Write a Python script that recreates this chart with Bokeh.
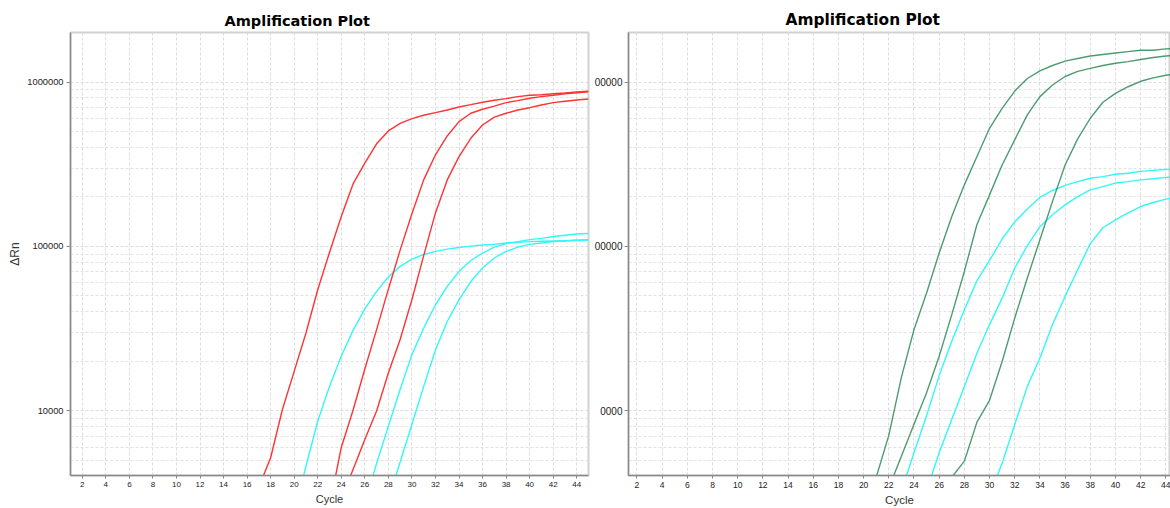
from bokeh.plotting import figure
from bokeh.models import Range1d, FixedTicker, CustomJSTickFormatter
from bokeh.layouts import row
from bokeh.embed import file_html
from bokeh.resources import INLINE

# ---------------- data ----------------
cycles = list(range(1, 46))
x_ticks = list(range(2, 46, 2))
y_ticks = [10000, 100000, 1000000]
y_minor = [k * 10 ** n for n in range(3, 7) for k in range(2, 10)]
y_tick_labels = ["10000", "100000", "1000000"]
# the right panel's tick labels are partly hidden in the reference: visible part only
right_y_tick_labels = ["0000", "00000", "00000"]
title_text = "Amplification Plot"
x_label = "Cycle"
y_label = "\u0394Rn"

# left panel: red and cyan curves (first cycle, values per cycle)
left_red_1_start = 17
left_red_1 = [3450, 5190, 10200, 17400, 29800, 54600, 92000, 152000, 240000, 321000,
              421000, 504000, 561000, 599000, 628000, 652000, 676000, 705000, 728000,
              753000, 774000, 792000, 815000, 830000, 837000, 849000, 857000, 869000, 878000]
left_red_2_start = 23
left_red_2 = [2630, 6000, 10100, 18000, 31200, 55000, 95000, 158000, 254000, 361000,
              470000, 574000, 646000, 683000, 714000, 749000, 770000, 796000, 815000,
              830000, 849000, 861000, 873000]
left_red_3_start = 24
left_red_3 = [2900, 4400, 6700, 10000, 17000, 27200, 47400, 88000, 160000, 254000,
              352000, 455000, 548000, 611000, 646000, 676000, 698000, 725000, 749000,
              764000, 778000, 789000]
left_cyan_1_start = 20
left_cyan_1 = [2400, 4610, 8650, 14100, 21500, 30900, 41700, 53300, 65200, 75700, 83800,
               89400, 93300, 96300, 98600, 100500, 102000, 103000, 105000, 106000, 107000,
               107500, 108000, 108500, 109000, 109500]
left_cyan_2_start = 26
left_cyan_2 = [2700, 4800, 8070, 13500, 22000, 31900, 44200, 57200, 70500, 82200, 91200,
               99200, 104000, 107000, 110000, 112000, 115000, 117000, 119000, 120000]
left_cyan_3_start = 28
left_cyan_3 = [2860, 4890, 8270, 14100, 23500, 35000, 47400, 61200, 74000, 85100, 93300,
               99200, 103000, 105000, 107000, 108000, 109000, 110000]

# right panel: green and cyan curves
right_green_1_start = 21
right_green_1 = [3950, 7100, 16000, 31200, 52100, 91200, 152000, 237000, 352000, 523000,
                 692000, 881000, 1050000, 1170000, 1260000, 1340000, 1390000, 1440000,
                 1470000, 1500000, 1530000, 1560000, 1560000, 1590000, 1600000]
right_green_2_start = 22
right_green_2 = [3400, 5300, 8300, 12900, 21500, 38500, 70500, 136000, 206000, 313000,
                 445000, 631000, 815000, 959000, 1080000, 1160000, 1210000, 1260000,
                 1300000, 1330000, 1370000, 1410000, 1440000, 1450000]
right_green_3_start = 27
right_green_3 = [3950, 4950, 8550, 11600, 20000, 36700, 64300, 110000, 188000, 313000,
                 451000, 602000, 753000, 853000, 936000, 1010000, 1060000, 1100000, 1120000]
right_cyan_1_start = 23
right_cyan_1 = [3270, 5570, 9360, 16400, 26500, 41200, 61900, 82200, 111000, 141000,
                169000, 199000, 219000, 235000, 248000, 260000, 266000, 275000, 279000,
                286000, 290000, 294000, 297000]
right_cyan_2_start = 25
right_cyan_2 = [3270, 5570, 8870, 14100, 22500, 33500, 48500, 74000, 101000, 132000,
                156000, 179000, 201000, 221000, 231000, 243000, 248000, 254000, 258000,
                263000, 265000]
right_cyan_3_start = 30
right_cyan_3 = [3070, 4800, 8270, 14100, 21000, 33500, 49700, 72200, 104000, 130000,
                145000, 160000, 175000, 185000, 194000, 198000]

RED = "#ff3333"
CYAN = "#33f7f7"
GREEN = "#2e8b57"

FMT_CODE = """
for (let i = 0; i < tick_values.length; i++) {
  if (Math.abs(tick_values[i] - tick) <= 1e-6 * tick_values[i]) return tick_texts[i];
}
return '';
"""


def pad(start, vals):
    return [float("nan")] * (start - 1) + list(vals)


def style(p, title_size, tick_size, label_size, labels):
    p.title.text_font = "DejaVu Sans"
    p.title.text_font_style = "bold"
    p.title.text_font_size = title_size
    p.title.text_color = "#000000"
    p.title.align = "left"
    p.title.standoff = 7
    p.outline_line_color = "#d2d2d2"
    p.outline_line_width = 2
    p.background_fill_color = "white"
    p.border_fill_color = "white"

    p.xaxis.ticker = FixedTicker(ticks=x_ticks)
    p.yaxis.ticker = FixedTicker(ticks=y_ticks, minor_ticks=y_minor)
    p.yaxis.formatter = CustomJSTickFormatter(
        args=dict(tick_values=y_ticks, tick_texts=labels), code=FMT_CODE)
    for ax in (p.xaxis[0], p.yaxis[0]):
        ax.axis_line_color = "#8a8a8a"
        ax.axis_line_width = 1.5
        ax.major_tick_line_color = "#8a8a8a"
        ax.major_tick_in = 0
        ax.minor_tick_line_color = None
        ax.major_label_text_font = "Liberation Sans"
        ax.major_label_text_color = "#222222"
        ax.axis_label_text_font = "Liberation Sans"
        ax.axis_label_text_font_style = "normal"
        ax.axis_label_text_color = "#333333"
        ax.axis_label_text_font_size = label_size
    p.xaxis.major_tick_out = 3
    p.xaxis.major_label_standoff = 3
    p.xaxis.major_label_text_font_size = tick_size
    p.xaxis.axis_label_standoff = 3
    p.yaxis.major_tick_out = 4
    p.yaxis.major_label_standoff = 3

    p.xgrid.grid_line_color = "#dcdcdc"
    p.xgrid.grid_line_dash = "3 2"
    p.ygrid.grid_line_color = "#dcdcdc"
    p.ygrid.grid_line_dash = "3 2"
    p.ygrid.minor_grid_line_color = "#e2e2e2"
    p.ygrid.minor_grid_line_dash = "3 2"


# ---------------- left figure ----------------
p1 = figure(width=591, height=508, y_axis_type="log",
            x_range=Range1d(1, 45), y_range=Range1d(4050, 2.0e6),
            title=title_text, output_backend="svg", toolbar_location=None,
            min_border_left=70, min_border_right=3, min_border_top=32, min_border_bottom=32)
style(p1, "14.5px", "8px", "11px", y_tick_labels)
p1.title.offset = 154
p1.xaxis.axis_label = x_label
p1.yaxis.axis_label = y_label
p1.yaxis.major_label_text_font_size = "9.3px"
p1.yaxis.axis_label_text_font_size = "12px"
p1.yaxis.axis_label_standoff = 2

for start, vals in ((left_cyan_1_start, left_cyan_1), (left_cyan_2_start, left_cyan_2),
                    (left_cyan_3_start, left_cyan_3)):
    p1.line(cycles, pad(start, vals), line_color=CYAN, line_width=1.4)
for start, vals in ((left_red_1_start, left_red_1), (left_red_2_start, left_red_2),
                    (left_red_3_start, left_red_3)):
    p1.line(cycles, pad(start, vals), line_color=RED, line_width=1.4)

# ---------------- right figure ----------------
p2 = figure(width=579, height=508, y_axis_type="log",
            x_range=Range1d(1.33, 44.37), y_range=Range1d(4050, 2.0e6),
            title=title_text, output_backend="svg", toolbar_location=None,
            min_border_left=34, min_border_right=0, min_border_top=32, min_border_bottom=32)
style(p2, "15.4px", "8.5px", "11.5px", right_y_tick_labels)
p2.title.offset = 157
p2.xaxis.axis_label = x_label
p2.yaxis.major_label_text_font_size = "10px"
p2.yaxis.major_label_standoff = 2

for start, vals in ((right_cyan_1_start, right_cyan_1), (right_cyan_2_start, right_cyan_2),
                    (right_cyan_3_start, right_cyan_3)):
    p2.line(cycles, pad(start, vals), line_color=CYAN, line_width=1.4)
for start, vals in ((right_green_1_start, right_green_1), (right_green_2_start, right_green_2),
                    (right_green_3_start, right_green_3)):
    p2.line(cycles, pad(start, vals), line_color=GREEN, line_width=1.4, line_alpha=0.85)

layout = row(p1, p2)
open("out.html", "w").write(file_html(layout, INLINE))
